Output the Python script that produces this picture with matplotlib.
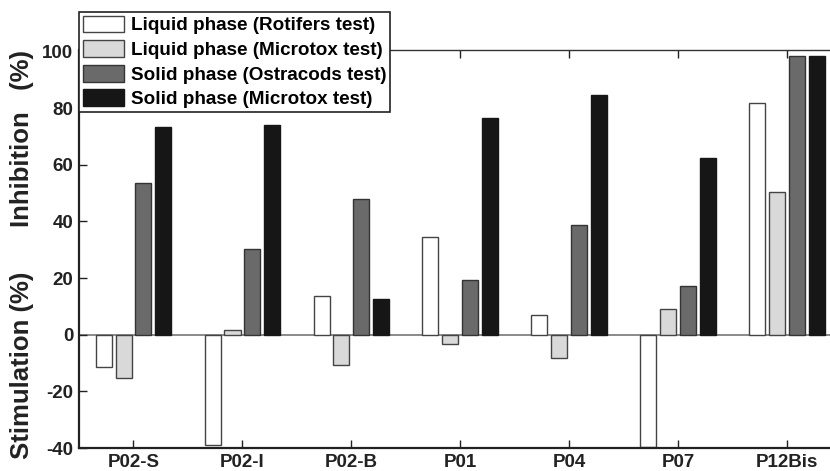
import numpy as np
import matplotlib
matplotlib.use("Agg")
import matplotlib.pyplot as plt

plt.rcParams['font.family'] = ['Liberation Sans', 'DejaVu Sans']
plt.rcParams['font.weight'] = 'bold'

sites = ["P02-S", "P02-I", "P02-B", "P01", "P04", "P07", "P12Bis"]
series_names = ["Liquid phase (Rotifers test)", "Liquid phase (Microtox test)",
                "Solid phase (Ostracods test)", "Solid phase (Microtox test)"]
liquid_rotifers = [-11.5, -39.0, 13.8, 34.4, 6.8, -39.6, 81.8]
liquid_microtox = [-15.3, 1.5, -10.8, -3.3, -8.3, 9.1, 50.4]
solid_ostracods = [53.5, 30.3, 48.0, 19.2, 38.8, 17.1, 98.5]
solid_microtox = [73.3, 74.2, 12.7, 76.5, 84.5, 62.3, 98.5]
y_ticks = [-40, -20, 0, 20, 40, 60, 80, 100]

values = [liquid_rotifers, liquid_microtox, solid_ostracods, solid_microtox]
colors = ["#ffffff", "#d9d9d9", "#6a6a6a", "#161616"]
edges = ["#444444", "#444444", "#333333", "#161616"]

fig = plt.figure(figsize=(8.3, 4.71), dpi=100)
ax = fig.add_axes([0.0952, 0.0488, 0.919, 0.845])

x = np.arange(1, len(sites) + 1)
step = 0.183
width = 0.147
handles = []
for i, vals in enumerate(values):
    b = ax.bar(x + (i - 1.5) * step, vals, width, color=colors[i],
               edgecolor=edges[i], linewidth=1.0, label=series_names[i], zorder=2)
    handles.append(b)

ax.axhline(0, color="#777777", linewidth=1.2, zorder=1)
ax.set_xlim(0.5, 7.5)
ax.set_ylim(-40, 100.5)
ax.set_xticks(x)
ax.set_xticklabels(sites, fontsize=13.5, fontweight='bold')
ax.set_yticks(y_ticks)
ax.set_yticklabels([str(t) for t in y_ticks], fontsize=13.5, fontweight='bold')
ax.tick_params(direction='in', length=6, width=1, top=True, right=False,
               colors="#222222", labelcolor="#222222", pad=4)
for s in ["left", "bottom"]:
    ax.spines[s].set_linewidth(1.6)
    ax.spines[s].set_color("#222222")
ax.spines["top"].set_linewidth(1.0)
ax.spines["top"].set_color("#333333")
ax.spines["right"].set_visible(False)

fig.text(0.0265, 0.707, "Inhibition   (%)", rotation=90, ha='center', va='center',
         fontsize=18.5, fontweight='bold', color="#222222")
fig.text(0.0265, 0.225, "Stimulation (%)", rotation=90, ha='center', va='center',
         fontsize=18.5, fontweight='bold', color="#222222")

leg = fig.legend(handles=handles, loc='upper left', bbox_to_anchor=(0.0952, 0.975),
                 prop={'weight': 'bold', 'size': 13.6}, frameon=True,
                 fancybox=False, edgecolor="#222222", framealpha=1,
                 handlelength=2.2, handleheight=1.0, handletextpad=0.35,
                 labelspacing=0.3, borderpad=0.2, borderaxespad=0)
leg.get_frame().set_linewidth(1.2)

fig.savefig("out.png", dpi=100)
